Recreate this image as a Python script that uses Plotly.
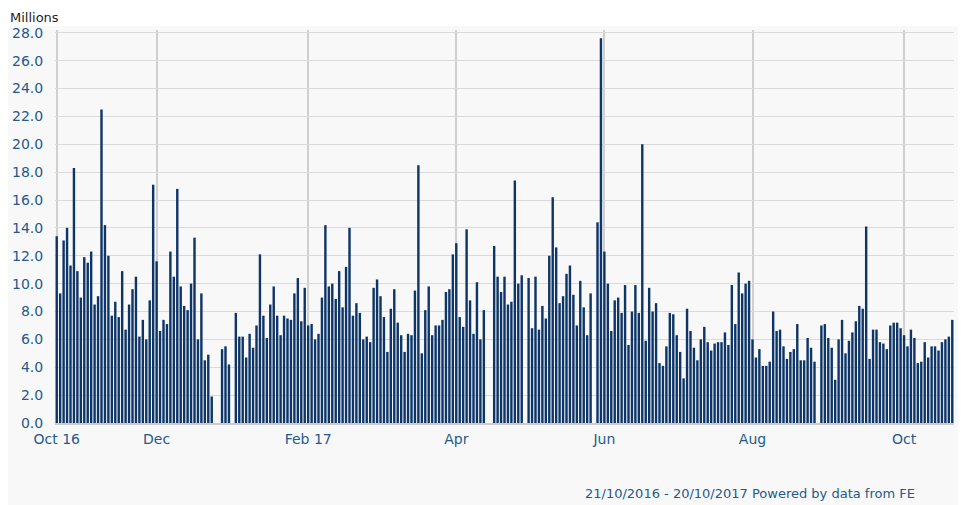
import pandas as pd
import plotly.graph_objects as go

# Trading-day slots (weekdays) from 21/10/2016 to 20/10/2017
days = [d.strftime("%Y-%m-%d") for d in pd.bdate_range("2016-10-21", "2017-10-20")]

# Daily volume in millions (None = market holiday)
volume = [
    13.4, 9.3, 13.1, 14.0, 11.3, 18.3, 10.9, 9.0, 11.9, 11.5,
    12.3, 8.5, 9.1, 22.5, 14.2, 12.0, 7.7, 8.7, 7.6, 10.9,
    6.7, 8.5, 9.6, 10.5, 6.2, 7.4, 6.0, 8.8, 17.1, 11.6,
    6.6, 7.4, 7.1, 12.3, 10.5, 16.8, 9.8, 8.4, 8.1, 10.0,
    13.3, 6.0, 9.3, 4.5, 4.9, 1.9, None, None, 5.3, 5.5,
    4.2, None, 7.9, 6.2, 6.2, 4.7, 6.4, 5.4, 7.0, 12.1,
    7.7, 6.1, 8.5, 9.8, 7.7, 6.3, 7.7, 7.5, 7.4, 9.3,
    10.4, 7.3, 9.7, 7.0, 7.1, 6.0, 6.4, 9.0, 14.2, 9.8,
    10.0, 8.9, 10.9, 8.3, 11.2, 14.0, 7.7, 8.6, 7.9, 6.0,
    6.2, 5.8, 9.7, 10.3, 9.1, 7.6, 5.1, 8.2, 9.6, 7.2,
    6.3, 5.1, 6.4, 6.3, 9.5, 18.5, 5.0, 8.1, 9.8, 6.3,
    7.0, 7.0, 7.4, 9.4, 9.6, 12.1, 12.9, 7.6, 6.9, 13.9,
    8.8, 6.4, 10.1, 6.0, 8.1, None, None, 12.7, 10.5, 9.4,
    10.5, 8.5, 8.7, 17.4, 10.0, 10.6, None, 10.4, 6.8, 10.5,
    6.7, 8.4, 7.5, 12.0, 16.2, 12.6, 8.6, 9.1, 10.7, 11.3,
    9.2, 7.0, 10.2, 8.3, 6.3, 9.3, None, 14.4, 27.6, 12.3,
    10.0, 6.6, 8.8, 9.0, 7.9, 9.9, 5.6, 8.0, 9.9, 7.9,
    20.0, 5.9, 9.7, 8.0, 8.6, 4.3, 4.1, 5.5, 7.9, 7.8,
    6.3, 5.1, 3.2, 8.2, 6.6, 5.4, 4.5, 6.0, 6.9, 5.8,
    5.2, 5.7, 5.8, 5.8, 6.5, 5.6, 9.9, 7.1, 10.8, 9.3,
    10.0, 10.2, 6.0, 4.7, 5.3, 4.1, 4.1, 4.4, 8.0, 6.6,
    6.7, 5.5, 4.6, 5.1, 5.3, 7.1, 4.5, 4.5, 6.1, 5.4,
    4.4, None, 7.0, 7.1, 6.1, 5.4, 3.1, 6.0, 7.4, 5.0,
    5.9, 6.5, 7.3, 8.4, 8.2, 14.1, 4.6, 6.7, 6.7, 5.8,
    5.7, 5.3, 7.0, 7.2, 7.2, 6.8, 6.3, 5.5, 6.7, 6.1,
    4.3, 4.4, 5.8, 4.7, 5.5, 5.5, 5.2, 5.8, 6.0, 6.2,
    7.4,
]

tick_dates = ["2016-10-21", "2016-12-01", "2017-02-01", "2017-04-03",
              "2017-06-01", "2017-08-01", "2017-10-02"]
tick_labels = ["Oct 16", "Dec", "Feb 17", "Apr", "Jun", "Aug", "Oct"]

BLUE = "#235a8f"
FONT = "DejaVu Sans, Verdana, sans-serif"

fig = go.Figure(go.Bar(
    x=days, y=volume,
    marker=dict(color="#0e3567", line=dict(width=0)),
    hoverinfo="skip",
))

fig.update_layout(
    width=950, height=497,
    margin=dict(l=47, r=4, t=22, b=82, autoexpand=False),
    paper_bgcolor="white",
    plot_bgcolor="#fafafa",
    bargap=0.3,
    showlegend=False,
    font=dict(family=FONT, size=14, color=BLUE),
    xaxis=dict(
        type="category",
        categoryorder="array", categoryarray=days,
        tickmode="array", tickvals=tick_dates, ticktext=tick_labels,
        showgrid=True, gridcolor="#cfcfcf", gridwidth=2,
        showline=True, linecolor="#cccccc", linewidth=2,
        ticks="outside", ticklen=2, tickcolor="rgba(0,0,0,0)",
        tickfont=dict(size=14, color=BLUE, family=FONT),
        range=[-0.5, len(days) - 0.5],
        automargin=False,
        fixedrange=True,
    ),
    yaxis=dict(
        range=[0, 28.2], dtick=2, tickformat=".1f",
        showgrid=True, gridcolor="#dadada", gridwidth=1,
        zeroline=False, showline=False,
        ticks="outside", ticklen=8, tickcolor="rgba(0,0,0,0)",
        tickfont=dict(size=14, color=BLUE, family=FONT),
        automargin=False,
        fixedrange=True,
    ),
    shapes=[dict(
        type="rect", xref="paper", yref="paper",
        x0=-0.06, x1=1.01, y0=-0.22, y1=1.01,
        fillcolor="#f8f8f8", line=dict(width=0), layer="below",
    )],
    annotations=[
        dict(text="Millions", xref="paper", yref="paper",
             x=-0.0523, y=1.0, xanchor="left", yanchor="middle", yshift=13,
             showarrow=False, font=dict(size=13, color="#222222", family=FONT)),
        dict(text="21/10/2016 - 20/10/2017 Powered by data from FE",
             xref="paper", yref="paper", x=0.959, y=-0.18,
             xanchor="right", yanchor="middle", showarrow=False,
             font=dict(size=13, color=BLUE, family=FONT)),
    ],
)

fig.write_html("out.html")
